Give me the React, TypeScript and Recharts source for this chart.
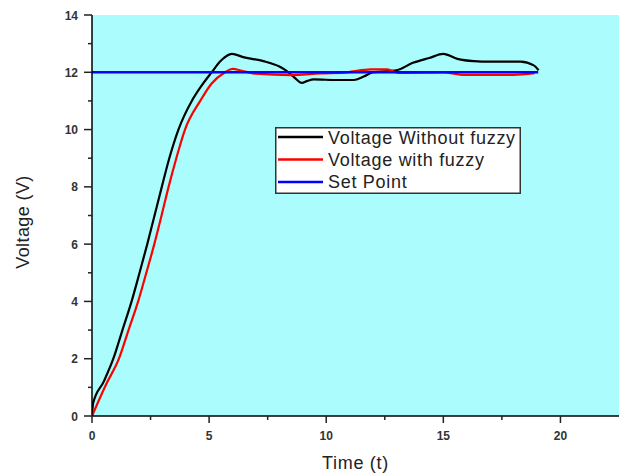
import React from 'react';
import { LineChart, Line, XAxis, YAxis, CartesianGrid, Legend } from 'recharts';

const withoutFuzzyT = [0, 0.05, 0.5, 0.91, 1.3, 1.69, 2.03, 2.36, 2.67, 2.98, 3.3, 3.69, 4.26, 4.65, 5.11, 5.5, 5.97, 6.5, 7.32, 8.0, 8.32, 8.6, 8.96, 9.2, 9.46, 10.5, 11.17, 11.6, 12.0, 13.0, 13.7, 14.4, 15.0, 15.6, 16.3, 17.0, 18.3, 18.86, 19.07];
const withoutFuzzyV = [0, 0.45, 1.2, 2, 3, 4, 5, 6, 7, 8, 9, 10, 11, 11.5, 12, 12.4, 12.64, 12.52, 12.39, 12.2, 12.04, 11.85, 11.63, 11.7, 11.75, 11.73, 11.73, 11.85, 12.0, 12.07, 12.33, 12.5, 12.64, 12.47, 12.39, 12.37, 12.37, 12.24, 12.07];

const withFuzzyT = [0, 0.6, 1.15, 1.56, 1.97, 2.32, 2.66, 2.97, 3.27, 3.6, 3.97, 4.62, 5.1, 5.68, 6.0, 6.4, 7.0, 8.46, 9.74, 10.9, 11.9, 12.6, 13.1, 15.0, 15.9, 18.0, 18.9];
const withFuzzyV = [0, 1.1, 2, 3, 4, 5, 6, 7, 8, 9, 10, 11, 11.6, 12.0, 12.12, 12.05, 11.95, 11.9, 11.96, 12.0, 12.1, 12.1, 11.98, 12.0, 11.91, 11.91, 11.97];

const setPointT = [0, 19.05];
const setPointV = [12, 12];

const xTicks = [0, 2.5, 5, 7.5, 10, 12.5, 15, 17.5, 20];
const yTicks = [0, 1, 2, 3, 4, 5, 6, 7, 8, 9, 10, 11, 12, 13, 14];

const seriesNames = ['Voltage Without fuzzy', 'Voltage with fuzzy', 'Set Point'];
const seriesColors = ['#000000', '#ff0000', '#0000ff'];

const zip = (t: number[], v: number[]) => t.map((x, i) => ({ t: x, v: v[i] }));
const dataWithout = zip(withoutFuzzyT, withoutFuzzyV);
const dataWith = zip(withFuzzyT, withFuzzyV);
const dataSet = zip(setPointT, setPointV);

const FONT = '"Liberation Sans", Arial, sans-serif';

const XTick = (props: any) => {
  const { x, y, payload } = props;
  const major = Number.isInteger(payload.value);
  return (
    <g>
      <line x1={x} x2={x} y1={y} y2={y + (major ? 7 : 4)} stroke="#222" strokeWidth={1.5} />
      {major && (
        <text x={x} y={y + 24} textAnchor="middle" fontFamily={FONT} fontSize={12} fontWeight="bold" fill="#333">
          {payload.value}
        </text>
      )}
    </g>
  );
};

const YTick = (props: any) => {
  const { x, y, payload } = props;
  const major = payload.value % 2 === 0;
  return (
    <g>
      <line x1={x} x2={x - (major ? 8 : 4)} y1={y} y2={y} stroke="#222" strokeWidth={1.5} />
      {major && (
        <text x={x - 14} y={y + 4.5} textAnchor="end" fontFamily={FONT} fontSize={12} fontWeight="bold" fill="#333">
          {payload.value}
        </text>
      )}
    </g>
  );
};

const LegendBox = () => (
  <svg width={246} height={67} style={{ display: 'block' }}>
    <rect x={0.75} y={0.75} width={244.5} height={65.5} fill="#ffffff" stroke="#333" strokeWidth={1.5} />
    {seriesNames.map((name, i) => (
      <g key={name}>
        <line x1={3} x2={48} y1={10 + i * 22.5} y2={10 + i * 22.5} stroke={seriesColors[i]} strokeWidth={2.5} />
        <text x={53} y={17 + i * 22} fontFamily={FONT} fontSize={18} letterSpacing={0.7} fill="#222">
          {name}
        </text>
      </g>
    ))}
  </svg>
);

export default function App() {
  return (
    <div style={{ position: 'absolute', left: 0, top: 0, width: 621, height: 476, background: '#fff' }}>
      <LineChart width={621} height={476} margin={{ top: 15, right: 2, left: 0, bottom: 0 }}>
        <CartesianGrid horizontal={false} vertical={false} fill="#abfdfd" stroke="none" />
        <XAxis
          type="number"
          dataKey="t"
          domain={[0, 22.5]}
          ticks={xTicks}
          interval={0}
          allowDataOverflow
          height={60}
          tickSize={0}
          tickMargin={0}
          tickLine={false}
          tick={<XTick />}
          axisLine={{ stroke: '#000', strokeWidth: 1.5 }}
          label={() => (
            <text x={355.5} y={468.5} textAnchor="middle" fontFamily={FONT} fontSize={18} letterSpacing={0.7} fill="#222">
              Time (t)
            </text>
          )}
        />
        <YAxis
          type="number"
          dataKey="v"
          domain={[0, 14]}
          ticks={yTicks}
          interval={0}
          width={92}
          tickSize={0}
          tickMargin={0}
          tickLine={false}
          tick={<YTick />}
          axisLine={{ stroke: '#000', strokeWidth: 1.5 }}
          label={() => (
            <text x={29} y={222} transform="rotate(-90 29 222)" textAnchor="middle" fontFamily={FONT} fontSize={18} letterSpacing={0.4} fill="#222">
              Voltage (V)
            </text>
          )}
        />
        <Legend
          layout="horizontal"
          verticalAlign="middle"
          align="center"
          wrapperStyle={{ left: 275, top: 127, width: 246, height: 67 }}
          content={() => <LegendBox />}
        />
        <Line data={dataWithout} dataKey="v" name={seriesNames[0]} type="monotone" stroke={seriesColors[0]} strokeWidth={2.2} dot={false} isAnimationActive={false} />
        <Line data={dataWith} dataKey="v" name={seriesNames[1]} type="monotone" stroke={seriesColors[1]} strokeWidth={2.2} dot={false} isAnimationActive={false} />
        <Line data={dataSet} dataKey="v" name={seriesNames[2]} type="linear" stroke={seriesColors[2]} strokeWidth={2.5} dot={false} isAnimationActive={false} />
      </LineChart>
    </div>
  );
}
